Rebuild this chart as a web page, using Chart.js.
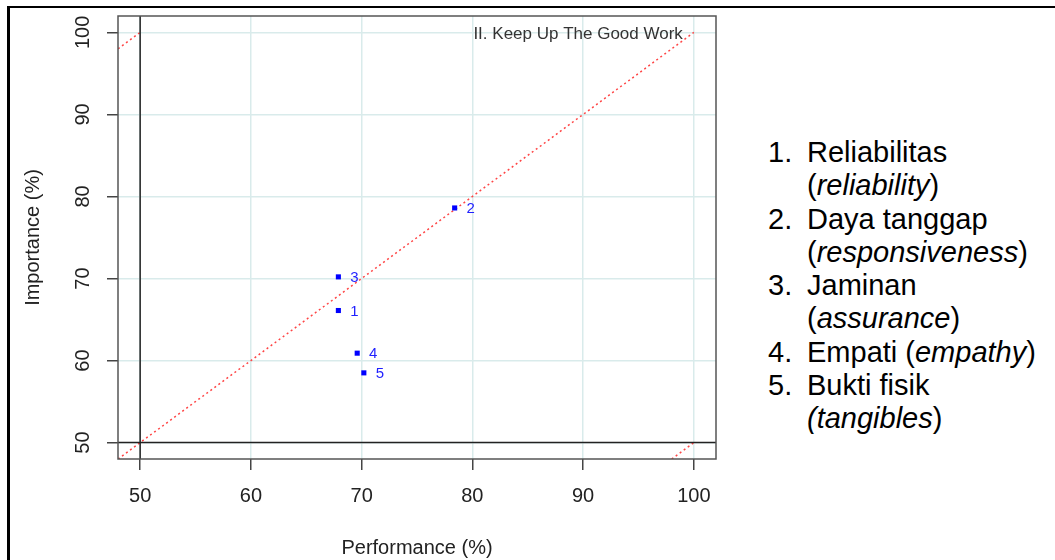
<!DOCTYPE html>
<html>
<head>
<meta charset="utf-8">
<script src="https://cdn.jsdelivr.net/npm/chart.js@4.4.0/dist/chart.umd.min.js"></script>
<style>
body{margin:0;width:1055px;height:560px;overflow:hidden;background:#fff;position:relative;font-family:"Liberation Sans",Arial,sans-serif}
#frame{position:absolute;left:7px;top:6px;width:1100px;height:600px;border-left:3px solid #000;border-top:2px solid #000}
#chartBox{position:absolute;left:0;top:0;width:760px;height:560px}
#legend{position:absolute;left:768px;top:136px;font-size:29px;line-height:33.3px;color:#000}
.item{display:flex}
.num{width:39px;flex:none}
.txt{width:234px}
</style>
</head>
<body>
<div id="frame"></div>
<div id="chartBox"><canvas id="ipa" width="760" height="560"></canvas></div>
<div id="legend"></div>
<script>
var pointLabels = ['1', '2', '3', '4', '5'];
var perfValues = [67.9, 78.4, 67.9, 69.6, 70.2];
var impValues = [66.1, 78.6, 70.2, 60.9, 58.5];
var tickValues = [50, 60, 70, 80, 90, 100];
var axisMin = 48;
var axisMax = 102;
var meanPerf = 50;
var meanImp = 50;
var diagMain = [[48, 48], [100, 100]];
var diagUpper = [[48, 98], [50, 100]];
var diagLower = [[98, 48], [100, 50]];
var quadrantText = 'II. Keep Up The Good Work';
var xTitle = 'Performance (%)';
var yTitle = 'Importance (%)';
var legendNames = ['Reliabilitas', 'Daya tanggap', 'Jaminan', 'Empati', 'Bukti fisik'];
var legendEnglish = ['reliability', 'responsiveness', 'assurance', 'empathy', 'tangibles'];
var legendItalicParen = [false, false, false, false, true];

var FONT = '"Liberation Sans", Arial, sans-serif';

function toXY(pairs){
    var out = [];
    for (var i = 0; i < pairs.length; i++){
        out.push({x: pairs[i][0], y: pairs[i][1]});
    }
    return out;
}

function buildLegend(){
    var html = '';
    for (var i = 0; i < legendNames.length; i++){
        var eng = legendItalicParen[i] ? '<i>(' + legendEnglish[i] + '</i>)' : '(<i>' + legendEnglish[i] + '</i>)';
        html += '<div class="item"><span class="num">' + (i + 1) + '.</span><span class="txt">' + legendNames[i] + ' ' + eng + '</span></div>';
    }
    document.getElementById('legend').innerHTML = html;
}

var points = [];
for (var i = 0; i < perfValues.length; i++){
    points.push({x: perfValues[i], y: impValues[i]});
}

var fixTicks = function(scale){
    scale.ticks = tickValues.map(function(v){ return {value: v}; });
};

var overlay = {
    id: 'overlay',
    afterDatasetsDraw: function(chart){
        var ctx = chart.ctx;
        var a = chart.chartArea;
        var xs = chart.scales.x;
        var ys = chart.scales.y;
        ctx.save();
        // box round the plot
        ctx.strokeStyle = '#555';
        ctx.lineWidth = 1.5;
        ctx.strokeRect(a.left, a.top, a.right - a.left, a.bottom - a.top);

        // y tick labels, rotated like R
        ctx.fillStyle = '#222';
        ctx.font = '20px ' + FONT;
        ctx.textAlign = 'center';
        ctx.textBaseline = 'middle';
        for (var i = 0; i < tickValues.length; i++){
            ctx.save();
            ctx.translate(83, ys.getPixelForValue(tickValues[i]));
            ctx.rotate(-Math.PI / 2);
            ctx.fillText(String(tickValues[i]), 0, 0);
            ctx.restore();
        }

        // quadrant caption
        ctx.font = '17px ' + FONT;
        ctx.fillStyle = '#333';
        ctx.textAlign = 'right';
        ctx.fillText(quadrantText, xs.getPixelForValue(100) - 11, ys.getPixelForValue(100) + 2);

        // point numbers
        var meta = chart.getDatasetMeta(0);
        ctx.font = '15px ' + FONT;
        ctx.fillStyle = '#1f1fff';
        ctx.textAlign = 'center';
        meta.data.forEach(function(el, k){
            ctx.fillText(pointLabels[k], el.x + 16, el.y + 1);
        });
        ctx.restore();
    }
};

function init(){
    buildLegend();
    var lineStyle = {
        type: 'line',
        showLine: true,
        pointRadius: 0,
        fill: false,
        tension: 0
    };
    new Chart(document.getElementById('ipa').getContext('2d'), {
        type: 'scatter',
        data: {
            datasets: [
                {
                    label: 'Atribut',
                    data: points,
                    pointStyle: 'rect',
                    pointRadius: 3.6,
                    backgroundColor: '#0000ff',
                    borderWidth: 0
                },
                Object.assign({}, lineStyle, {label: 'v', data: [{x: meanPerf, y: axisMin}, {x: meanPerf, y: axisMax}], borderColor: '#222', borderWidth: 1.5}),
                Object.assign({}, lineStyle, {label: 'h', data: [{x: axisMin, y: meanImp}, {x: axisMax, y: meanImp}], borderColor: '#222', borderWidth: 1.5}),
                Object.assign({}, lineStyle, {label: 'd1', data: toXY(diagMain), borderColor: '#ff4545', borderWidth: 1.5, borderDash: [2, 3]}),
                Object.assign({}, lineStyle, {label: 'd2', data: toXY(diagUpper), borderColor: '#ff4545', borderWidth: 1.5, borderDash: [2, 3]}),
                Object.assign({}, lineStyle, {label: 'd3', data: toXY(diagLower), borderColor: '#ff4545', borderWidth: 1.5, borderDash: [2, 3]})
            ]
        },
        options: {
            responsive: false,
            animation: false,
            events: [],
            layout: {padding: {top: 16, right: 44, left: 0, bottom: 0}},
            plugins: {legend: {display: false}, tooltip: {enabled: false}},
            scales: {
                x: {
                    type: 'linear',
                    min: axisMin,
                    max: axisMax,
                    afterBuildTicks: fixTicks,
                    afterFit: function(scale){ scale.height = 101; },
                    grid: {color: '#d9ebeb', lineWidth: 1.5, tickColor: '#444', tickWidth: 1.5, tickLength: 11},
                    border: {display: false},
                    ticks: {color: '#222', font: {family: FONT, size: 20}, padding: 14, maxRotation: 0},
                    title: {display: true, text: xTitle, color: '#222', font: {family: FONT, size: 20}, padding: {top: 0, bottom: 0}}
                },
                y: {
                    type: 'linear',
                    min: axisMin,
                    max: axisMax,
                    afterBuildTicks: fixTicks,
                    afterFit: function(scale){ scale.width = 118; },
                    grid: {color: '#d9ebeb', lineWidth: 1.5, tickColor: '#444', tickWidth: 1.5, tickLength: 11},
                    border: {display: false},
                    ticks: {display: false},
                    title: {display: true, text: yTitle, color: '#222', font: {family: FONT, size: 20}, padding: {top: 21, bottom: 0}}
                }
            }
        },
        plugins: [overlay]
    });
}

window.addEventListener('DOMContentLoaded', init, false);
</script>
</body>
</html>
